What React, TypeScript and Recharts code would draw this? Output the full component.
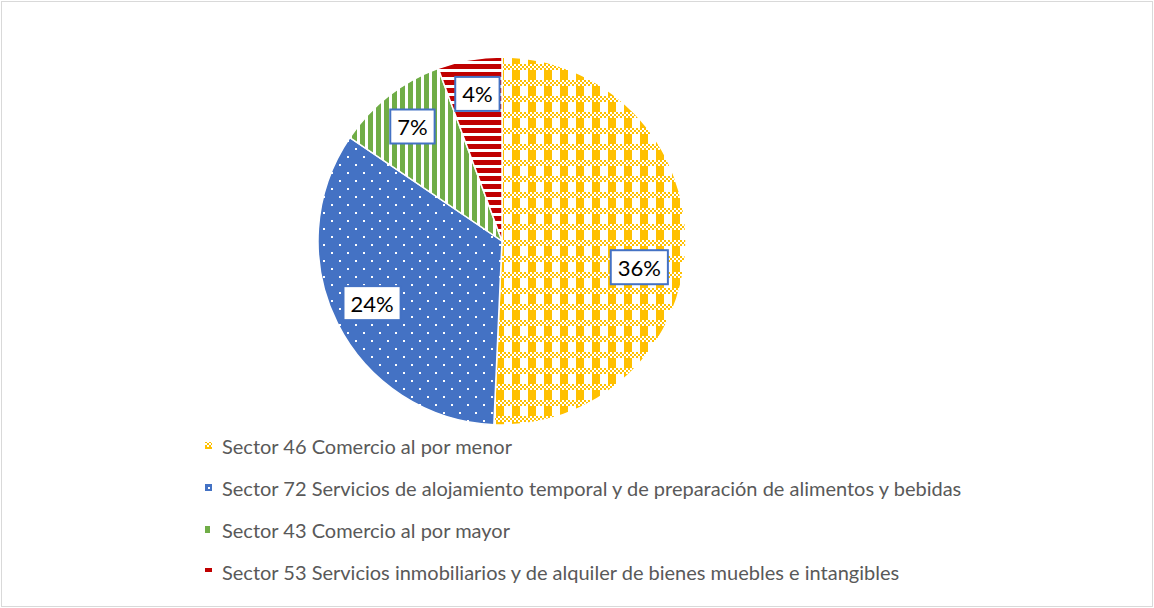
import React from "react";
import { PieChart, Pie, Cell, Legend } from "recharts";

const sectors = [
  "Sector 46 Comercio al por menor",
  "Sector 72 Servicios de alojamiento temporal y de preparación de alimentos y bebidas",
  "Sector 43 Comercio al por mayor",
  "Sector 53 Servicios inmobiliarios y de alquiler de bienes muebles e intangibles",
];
const shares = [36, 24, 7, 4];

const PATTERN_IDS = ["pat-yellow", "pat-blue", "pat-green", "pat-red"];
// Excel's "best fit" moved the first label a bit; nudge to match
const LABEL_NUDGE: Array<[number, number]> = [[-8, 23], [0, -3], [0, 0], [1, -4]];

const FONT = "Lato, 'Open Sans', sans-serif";

const chartData = sectors.map((name, i) => ({ name, value: shares[i] }));

function Patterns() {
  const checks: React.ReactNode[] = [];
  for (let x = 0; x < 16; x += 2) {
    for (let y = 0; y < 6; y += 2) {
      if (((x + y) / 2) % 2 === 0) {
        checks.push(<rect key={`${x}-${y}`} x={x} y={y} width={2} height={2} fill="#FFC000" />);
      }
    }
  }
  return (
    <defs>
      <pattern id="pat-yellow" width={16} height={16} patternUnits="userSpaceOnUse">
        <rect width={16} height={16} fill="#fff" />
        <rect x={0} y={6} width={8} height={10} fill="#FFC000" />
        {checks}
      </pattern>
      <pattern id="pat-blue" width={16} height={16} patternUnits="userSpaceOnUse">
        <rect width={16} height={16} fill="#4472C4" />
        <rect x={3} y={4} width={2} height={2} fill="#fff" />
        <rect x={11} y={12} width={2} height={2} fill="#fff" />
      </pattern>
      <pattern id="pat-green" width={8} height={8} patternUnits="userSpaceOnUse">
        <rect width={8} height={8} fill="#fff" />
        <rect x={0} y={0} width={5} height={8} fill="#70AD47" />
      </pattern>
      <pattern id="pat-red" width={8} height={8} patternUnits="userSpaceOnUse">
        <rect width={8} height={8} fill="#fff" />
        <rect x={0} y={0} width={8} height={5} fill="#C00000" />
      </pattern>
    </defs>
  );
}

const RAD = Math.PI / 180;

const renderLabel = (props: any) => {
  const { cx, cy, midAngle, outerRadius, value, index } = props;
  const r = outerRadius * 0.79;
  const [nx, ny] = LABEL_NUDGE[index] ?? [0, 0];
  const x = cx + r * Math.cos(-midAngle * RAD) + nx;
  const y = cy + r * Math.sin(-midAngle * RAD) + ny;
  const text = `${value}%`;
  const fs = 22;
  let tw = 0;
  for (const ch of text) tw += ch === "%" ? fs * 0.8 : fs * 0.58;
  const w = tw + 14;
  const h = 34;
  return (
    <g>
      <rect x={x - w / 2} y={y - h / 2} width={w} height={h} fill="#fff" stroke="#4472C4" strokeWidth={2} />
      <text x={x} y={y} textAnchor="middle" dominantBaseline="central" fontSize={fs} fontFamily={FONT} fill="#000">
        {text}
      </text>
    </g>
  );
};

const renderLegend = () => (
  <ul style={{ listStyle: "none", margin: 0, padding: 0 }}>
    {chartData.map((d, i) => (
      <li key={d.name} style={{ height: 42, display: "flex", alignItems: "center", whiteSpace: "nowrap" }}>
        <svg width={17} height={10}>
          <rect x={0} y={1} width={7} height={7} fill={`url(#${PATTERN_IDS[i]})`} />
        </svg>
        <span style={{ fontFamily: FONT, fontSize: 20, color: "#595959" }}>{d.name}</span>
      </li>
    ))}
  </ul>
);

export default function App() {
  return (
    <div style={{ position: "absolute", left: 0, top: 0, width: 1154, height: 608, background: "#fff" }}>
      <div
        style={{
          position: "absolute",
          left: 1,
          top: 1,
          width: 1150,
          height: 604,
          border: "1px solid #d9d9d9",
        }}
      />
      <PieChart
        width={1154}
        height={608}
        margin={{ top: 0, right: 0, bottom: 0, left: 0 }}
        style={{ position: "absolute", left: 0, top: 0 }}
      >
        <Patterns />
        <Pie
          data={chartData}
          dataKey="value"
          nameKey="name"
          cx={502}
          cy={241}
          outerRadius={184}
          startAngle={90}
          endAngle={-270}
          stroke="#fff"
          strokeWidth={1.5}
          label={renderLabel}
          labelLine={false}
          isAnimationActive={false}
        >
          {chartData.map((d, i) => (
            <Cell key={d.name} fill={`url(#${PATTERN_IDS[i]})`} />
          ))}
        </Pie>
        <Legend
          content={renderLegend}
          layout="vertical"
          wrapperStyle={{ left: 205, top: 425, width: 900, bottom: "auto" }}
        />
      </PieChart>
    </div>
  );
}
